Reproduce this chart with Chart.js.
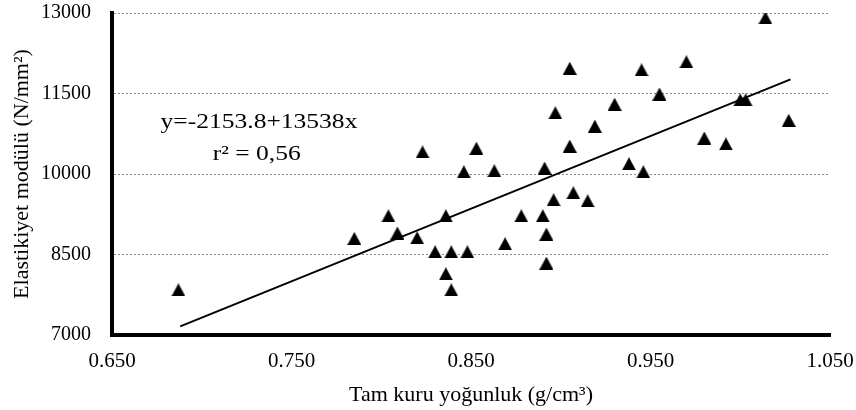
<!DOCTYPE html>
<html>
<head>
<meta charset="utf-8">
<script src="https://cdn.jsdelivr.net/npm/chart.js@4/dist/chart.umd.min.js"></script>
<style>
  html, body { margin: 0; padding: 0; background: #fff; }
</style>
</head>
<body>
<canvas id="myChart" width="856" height="410"></canvas>
<script>
// Tam kuru yoğunluk (g/cm3) and matching Elastikiyet modülü (N/mm2)
var density = [0.687, 0.785, 0.804, 0.809, 0.820, 0.823, 0.830, 0.836, 0.836, 0.839,
               0.839, 0.846, 0.848, 0.853, 0.863, 0.869, 0.878, 0.890, 0.891, 0.892,
               0.892, 0.896, 0.897, 0.905, 0.905, 0.907, 0.915, 0.919, 0.930, 0.938,
               0.945, 0.946, 0.955, 0.970, 0.980, 0.992, 1.000, 1.003, 1.014, 1.027];
var modulus = [7840, 8800, 9220, 8900, 8810, 10410, 8550, 9220, 8140, 8550,
               7840, 10040, 8550, 10480, 10060, 8700, 9220, 9220, 10110, 8880,
               8340, 9520, 11140, 11970, 10520, 9650, 9500, 10890, 11300, 10190,
               11940, 10040, 11490, 12090, 10670, 10560, 11380, 11380, 12910, 11000];

// trend line end points
var trendX = [0.688, 1.028];
var trendY = [7160, 11763];

var xTicks = [0.65, 0.75, 0.85, 0.95, 1.05];
var yTicks = [7000, 8500, 10000, 11500, 13000];

var equationText = "y=-2153.8+13538x";
var r2Text = "r\u00B2 = 0,56";

// black triangle marker
var tri = document.createElement('canvas');
tri.width = 14;
tri.height = 13;
var tctx = tri.getContext('2d');
tctx.fillStyle = '#000';
tctx.beginPath();
tctx.moveTo(0, 13);
tctx.lineTo(7, 0);
tctx.lineTo(14, 13);
tctx.closePath();
tctx.fill();

var serif = '"Liberation Serif", "Times New Roman", serif';

// equation text, a bit wider than the plain font
var equationPlugin = {
  id: 'equation',
  afterDraw: function(chart) {
    var ctx = chart.ctx;
    ctx.save();
    ctx.font = '22px ' + serif;
    ctx.fillStyle = '#000';
    ctx.textAlign = 'center';
    ctx.textBaseline = 'alphabetic';
    ctx.translate(259, 128);
    ctx.scale(1.16, 1);
    ctx.fillText(equationText, 0, 0);
    ctx.fillText(r2Text, -2, 32);
    ctx.restore();
  }
};

var ctx = document.getElementById("myChart");
var myChart = new Chart(ctx, {
  type: 'scatter',
  data: {
    datasets: [
      {
        data: density.map(function(d, i) { return { x: d, y: modulus[i] }; }),
        pointStyle: tri,
        order: 1
      },
      {
        type: 'line',
        data: trendX.map(function(d, i) { return { x: d, y: trendY[i] }; }),
        borderColor: '#000',
        borderWidth: 2,
        pointRadius: 0,
        fill: false,
        order: 2
      }
    ]
  },
  options: {
    responsive: false,
    animation: false,
    layout: { padding: { left: 0, right: 26, top: 13, bottom: 0 } },
    plugins: {
      legend: { display: false },
      tooltip: { enabled: false }
    },
    scales: {
      x: {
        type: 'linear',
        min: 0.65,
        max: 1.05,
        afterBuildTicks: function(axis) {
          axis.ticks = xTicks.map(function(v) { return { value: v }; });
        },
        afterFit: function(axis) {
          axis.height = 75;
          axis.paddingLeft = 0;
          axis.paddingRight = 0;
        },
        grid: { drawOnChartArea: false, drawTicks: false },
        border: { display: true, color: '#000', width: 4 },
        ticks: {
          padding: 14,
          color: '#000',
          font: { family: serif, size: 21 },
          callback: function(v) { return Number(v).toFixed(3); }
        },
        title: {
          display: true,
          text: 'Tam kuru yoğunluk (g/cm³)',
          color: '#000',
          font: { family: serif, size: 22 },
          padding: { top: 0, bottom: 2 }
        }
      },
      y: {
        min: 7000,
        max: 13000,
        afterBuildTicks: function(axis) {
          axis.ticks = yTicks.map(function(v) { return { value: v }; });
        },
        afterFit: function(axis) {
          axis.width = 112;
          axis.paddingTop = 0;
          axis.paddingBottom = 0;
        },
        grid: { color: '#888', lineWidth: 1, drawTicks: false },
        border: { display: true, color: '#000', width: 4, dash: [2, 2] },
        ticks: {
          padding: 21,
          color: '#000',
          font: { family: serif, size: 20 },
          callback: function(v) { return String(v); }
        },
        title: {
          display: true,
          text: 'Elastikiyet modülü (N/mm²)',
          color: '#000',
          font: { family: serif, size: 22 },
          padding: { top: 9, bottom: 0 }
        }
      }
    }
  },
  plugins: [equationPlugin]
});
</script>
</body>
</html>
